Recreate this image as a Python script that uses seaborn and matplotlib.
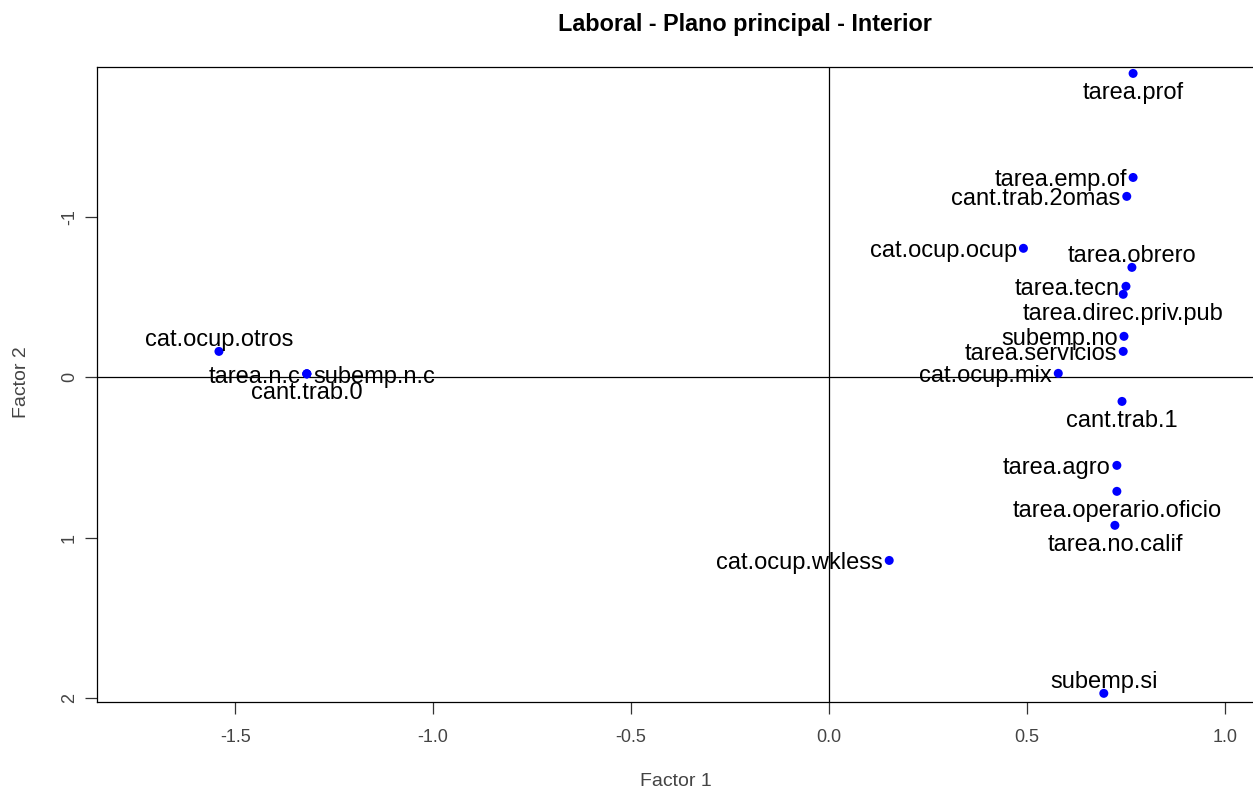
import matplotlib
matplotlib.use("Agg")
import matplotlib.pyplot as plt
import seaborn as sns
import pandas as pd

# Coordenadas de las categorías en el plano principal (Factor 1 x Factor 2)
categorias = [
    "tarea.prof", "tarea.emp.of", "cant.trab.2omas", "cat.ocup.ocup",
    "tarea.obrero", "tarea.tecn", "tarea.direc.priv.pub", "subemp.no",
    "tarea.servicios", "cat.ocup.mix", "cant.trab.1", "tarea.agro",
    "tarea.operario.oficio", "tarea.no.calif", "cat.ocup.wkless", "subemp.si",
    "cat.ocup.otros", "tarea.n.c", "subemp.n.c", "cant.trab.0",
]
factor1 = [
    0.768, 0.768, 0.752, 0.491,
    0.765, 0.750, 0.743, 0.745,
    0.743, 0.579, 0.740, 0.727,
    0.727, 0.722, 0.152, 0.694,
    -1.541, -1.319, -1.319, -1.319,
]
factor2 = [
    -1.896, -1.247, -1.129, -0.805,
    -0.686, -0.568, -0.518, -0.256,
    -0.162, -0.025, 0.150, 0.549,
    0.711, 0.923, 1.142, 1.971,
    -0.162, -0.022, -0.022, -0.022,
]
# lado en que se escribe cada etiqueta respecto de su punto
lado = [
    "abajo", "izq", "izq", "izq",
    "arriba", "izq", "abajo", "izq",
    "izq", "izq", "abajo", "izq",
    "abajo", "abajo", "izq", "arriba",
    "arriba", "izq", "der", "abajo",
]

xticks = [-1.5, -1.0, -0.5, 0.0, 0.5, 1.0]
xticklabels = ["-1.5", "-1.0", "-0.5", "0.0", "0.5", "1.0"]
yticks = [-1, 0, 1, 2]
yticklabels = ["-1", "0", "1", "2"]

df = pd.DataFrame({"categoria": categorias, "Factor 1": factor1,
                   "Factor 2": factor2, "lado": lado})

sns.set_style("white")
plt.rcParams["font.family"] = ["Liberation Sans", "DejaVu Sans"]

W, H = 1253, 797
fig = plt.figure(figsize=(W / 100, H / 100), dpi=100)
ax = fig.add_axes([97 / W, 95 / H, 1181 / W, 635 / H])

ax.axhline(0, color="black", lw=0.9, zorder=1)
ax.axvline(0, color="black", lw=0.9, zorder=1)

sns.scatterplot(data=df, x="Factor 1", y="Factor 2", ax=ax, color="blue",
                s=42, edgecolor="none", linewidth=0, zorder=3, legend=False)

offsets = {
    "izq": ((-4.5, -2), "right", "center"),
    "der": ((4.5, -2), "left", "center"),
    "abajo": ((0, -14), "center", "center"),
    "arriba": ((0, 8.5), "center", "center"),
}
for _, fila in df.iterrows():
    off, ha, va = offsets[fila["lado"]]
    ax.annotate(fila["categoria"], (fila["Factor 1"], fila["Factor 2"]),
                xytext=off, textcoords="offset points", ha=ha, va=va,
                fontsize=17, color="black", zorder=4)

ax.set_xlim(-1.849, 1.134)
ax.set_ylim(2.025, -1.936)
ax.set_xticks(xticks)
ax.set_xticklabels(xticklabels)
ax.set_yticks(yticks)
ax.set_yticklabels(yticklabels)

ax.tick_params(axis="both", direction="out", length=8.6, width=0.9,
               color="#333333", labelcolor="#444444", labelsize=13,
               bottom=True, left=True)
ax.tick_params(axis="x", pad=11)
ax.tick_params(axis="y", pad=5, labelrotation=90)
for lbl in ax.get_yticklabels():
    lbl.set_va("center")

for sp in ax.spines.values():
    sp.set_color("black")
    sp.set_linewidth(0.9)

ax.set_xlabel("Factor 1", fontsize=14, color="#444444", va="center")
ax.set_ylabel("Factor 2", fontsize=14, color="#444444", va="center")
ax.xaxis.set_label_coords((676 - 97) / 1181, -(782 - 702) / 635)
ax.yaxis.set_label_coords(-(97 - 22) / 1181, 1 - (382 - 67) / 635)

fig.suptitle("Laboral - Plano principal - Interior", x=745 / W,
             y=1 - 24 / H, va="center", fontsize=16.8, fontweight="bold",
             color="black")

fig.savefig("out.png", dpi=100, facecolor="white")
